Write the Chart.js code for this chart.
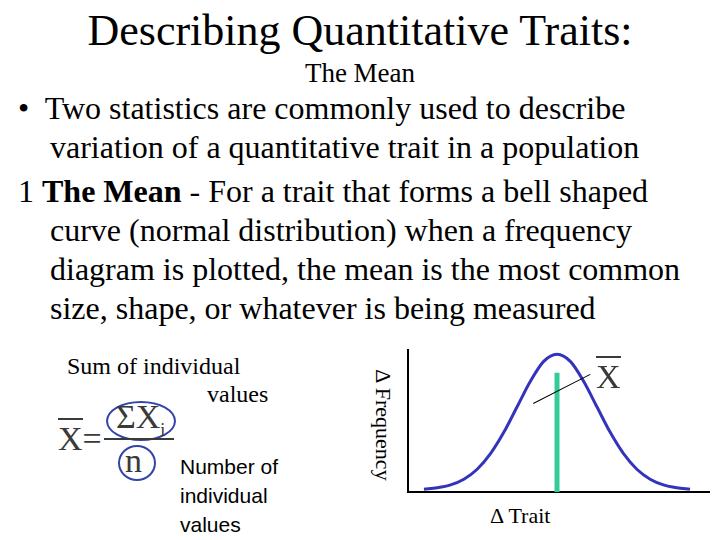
<!DOCTYPE html>
<html><head><meta charset="utf-8">
<script src="https://cdn.jsdelivr.net/npm/chart.js@4"></script>
<style>
body{margin:0;width:720px;height:540px;background:#fff;position:relative;overflow:hidden;font-family:"Liberation Serif",serif;color:#000}
.a{position:absolute;white-space:nowrap}
.ol{border-top:2px solid #000}
</style></head><body>
<div class="a" style="left:0;width:720px;text-align:center;top:5px;font-size:44px">Describing Quantitative Traits:</div>
<div class="a" style="left:0;width:720px;text-align:center;top:58px;font-size:27px">The Mean</div>
<div class="a" style="left:18px;top:89px;font-size:32px;line-height:39px">•&nbsp; Two statistics are commonly used to describe<br>&nbsp;&nbsp;&nbsp;&nbsp;variation of a quantitative trait in a population</div>
<div class="a" style="left:18px;top:172px;font-size:32px;line-height:39px">1 <b>The Mean</b> - For a trait that forms a bell shaped<br>&nbsp;&nbsp;&nbsp;&nbsp;curve (normal distribution) when a frequency<br>&nbsp;&nbsp;&nbsp;&nbsp;diagram is plotted, the mean is the most common<br>&nbsp;&nbsp;&nbsp;&nbsp;size, shape, or whatever is being measured</div>

<div class="a" style="left:67px;top:353px;font-size:24px">Sum of individual</div>
<div class="a" style="left:207px;top:381px;font-size:24px">values</div>
<div class="a" style="left:58px;top:420px;font-size:34px;color:#3a3a3a"><span class="ol" style="border-color:#3a3a3a">X</span>=</div>
<div class="a" style="left:106px;top:401px;width:66px;height:36px;border:2px solid #3344aa;border-radius:50%"></div>
<div class="a" style="left:116px;top:398px;font-size:34px;color:#3a3a3a">ΣX<sub style="font-size:18px">i</sub></div>
<div class="a" style="left:104px;top:438px;width:70px;border-top:2px solid #3a3a3a"></div>
<div class="a" style="left:118px;top:445px;width:34px;height:32px;border:2px solid #3344aa;border-radius:50%"></div>
<div class="a" style="left:125px;top:442px;font-size:34px;color:#3a3a3a">n</div>
<div class="a" style="left:180px;top:452px;font-size:21px;line-height:29px;font-family:'Liberation Sans',sans-serif">Number of<br>individual<br>values</div>

<canvas id="c" class="a" style="left:400px;top:335px;width:310px;height:165px"></canvas>
<div class="a" style="left:313px;top:412px;width:140px;text-align:center;font-size:22px;transform:rotate(90deg)">Δ Frequency</div>
<div class="a" style="left:490px;top:503px;font-size:22px">Δ Trait</div>
<div class="a" style="left:596px;top:358px;font-size:34px;color:#3a3a3a"><span class="ol" style="border-color:#3a3a3a">X</span></div>
<div class="a" style="left:533px;top:403px;width:64px;border-top:1px solid #000;transform:rotate(-27deg);transform-origin:0 0"></div>
<script>
const xs=[0,1,2,3,4,5,6,7,8,9,10,11,12,13,14,15,16,17,18,19,20];
const freq=[2,3,5,9,16,27,42,60,78,92,97,92,78,60,42,27,16,9,5,3,2];
const meanX=[10,10];
const meanY=[0,84];
new Chart(document.getElementById('c'),{type:'line',
data:{datasets:[
{data:xs.map((x,i)=>({x,y:freq[i]})),borderColor:'#3333bb',borderWidth:3,pointRadius:0,tension:0.4,cubicInterpolationMode:'monotone'},
{data:meanX.map((x,i)=>({x,y:meanY[i]})),borderColor:'#33cc99',borderWidth:5,pointRadius:0}]},
options:{responsive:false,animation:false,plugins:{legend:{display:false},tooltip:{enabled:false}},
layout:{padding:{left:0,right:0,top:15,bottom:0}},
scales:{x:{type:'linear',min:-1.2,max:21.5,grid:{display:false},ticks:{display:false},border:{color:'#000',width:2}},
y:{min:0,max:100,grid:{display:false},ticks:{display:false},border:{color:'#000',width:2}}}}});
</script>
</body></html>
